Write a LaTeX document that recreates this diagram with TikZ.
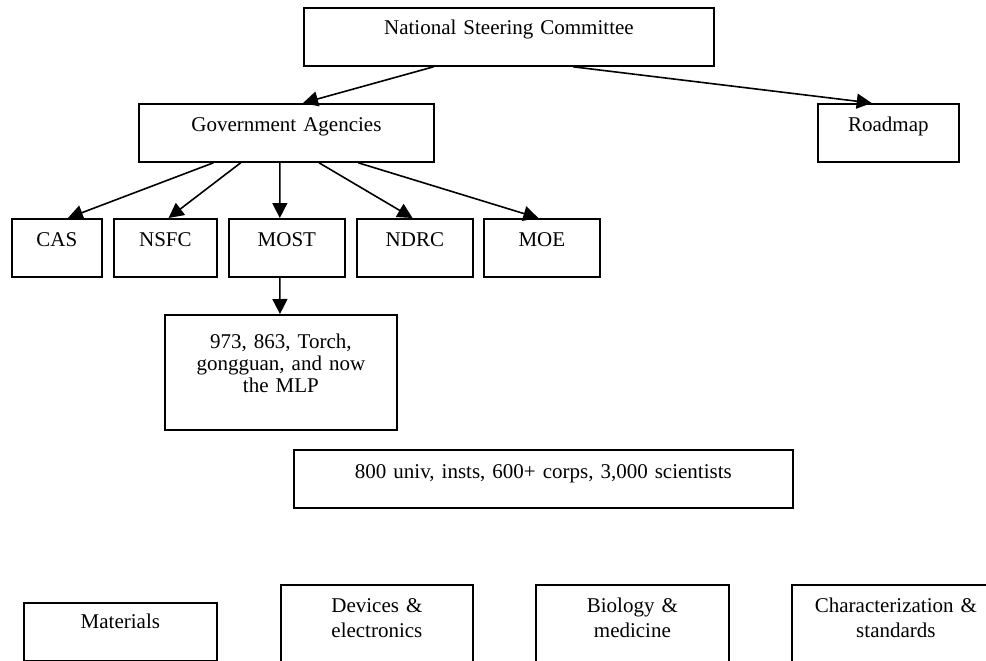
\documentclass[tikz,border=0pt]{standalone}
\usepackage{fontspec}
\setmainfont{Liberation Serif}
\usetikzlibrary{arrows.meta,calc}

\begin{document}
\begin{tikzpicture}[
    x=0.5pt,y=-0.5pt,
    >={Triangle[length=7.5pt,width=7.5pt]},
    every node/.style={font=\fontsize{10.5}{11}\selectfont},
    box/.style={
        draw,
        line width=0.9pt,
        inner sep=0pt,
        anchor=north west,
        align=center,
        text height=14pt,
        text depth=15pt
    },
    lowbox/.style={box, font=\fontsize{10.5}{12.5}\selectfont, text depth=31pt},
    arr/.style={->, line width=0.8pt}
]
\useasboundingbox (0,0) rectangle (986,660);
\clip (0,0) rectangle (986,660);

% Top level
\node[box, text width=205pt, text height=13.5pt, text depth=15.5pt] (nsc) at (303,7) {National Steering Committee};
\node[box, text width=147.5pt] (gov) at (138,103) {Government Agencies};
\node[box, text width=70.5pt] (road) at (817,103) {Roadmap};

\draw[arr] ($(nsc.south west)!0.317!(nsc.south east)$) -- ($(gov.north west)!0.556!(gov.north east)$);
\draw[arr] ($(nsc.south west)!0.656!(nsc.south east)$) -- ($(road.north west)!0.383!(road.north east)$);

% Agencies
\node[box, text width=45pt] (cas) at (11,218) {CAS};
\node[box, text width=51.5pt] (nsfc) at (113,218) {NSFC};
\node[box, text width=58pt] (most) at (228,218) {MOST};
\node[box, text width=58pt] (ndrc) at (356,218) {NDRC};
\node[box, text width=58pt] (moe) at (483,218) {MOE};

\draw[arr] ($(gov.south west)!0.254!(gov.south east)$) -- ($(cas.north west)!0.62!(cas.north east)$);
\draw[arr] ($(gov.south west)!0.346!(gov.south east)$) -- ($(nsfc.north west)!0.53!(nsfc.north east)$);
\draw[arr] ($(gov.south west)!0.478!(gov.south east)$) -- ($(most.north west)!0.44!(most.north east)$);
\draw[arr] ($(gov.south west)!0.61!(gov.south east)$) -- ($(ndrc.north west)!0.48!(ndrc.north east)$);
\draw[arr] ($(gov.south west)!0.742!(gov.south east)$) -- ($(moe.north west)!0.47!(moe.north east)$);

% Programmes
\node[box, text width=116pt, text height=17pt, text depth=40.5pt] (prog) at (164,314) {973, 863, Torch,\\gongguan, and now\\the MLP};
\draw[arr] ($(most.south west)!0.44!(most.south east)$) -- ($(prog.north west)!0.496!(prog.north east)$);

% Performers
\node[box, text width=249.5pt, text height=14.5pt, text depth=14.5pt] (perf) at (293,449) {800 univ, insts, 600+ corps, 3,000 scientists};

% Research areas
\node[box, text width=96.5pt, text height=13pt, text depth=16pt] (mat) at (23,602) {Materials};
\node[lowbox, text width=96pt] (dev) at (280,584) {Devices \&\\electronics};
\node[lowbox, text width=96.5pt] (bio) at (535,584) {Biology \&\\medicine};
\node[lowbox, text width=104pt] (chr) at (791,584) {Characterization \&\\standards};

\end{tikzpicture}
\end{document}
